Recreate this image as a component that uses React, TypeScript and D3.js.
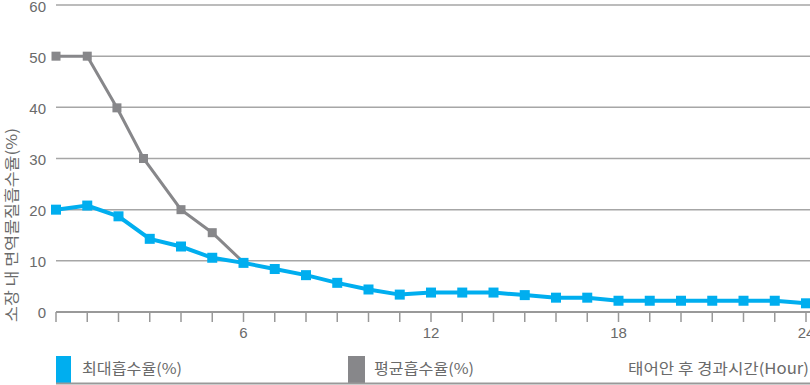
import React from "react";
import * as d3 from "d3";

const hours = d3.range(0, 25);
const maxHours = hours;
const maxValues = [20, 20.8, 18.7, 14.3, 12.8, 10.6, 9.6, 8.4, 7.2, 5.7, 4.4, 3.4, 3.8, 3.8, 3.8, 3.3, 2.8, 2.8, 2.2, 2.2, 2.2, 2.2, 2.2, 2.2, 1.7];
const avgHours = [0, 1, 1.95, 2.8, 4, 5, 6];
const avgValues = [50, 50, 39.9, 30, 20, 15.5, 9.7];
const yTicks = [0, 10, 20, 30, 40, 50, 60];
const xLabels = [6, 12, 18, 24];
const legendLabels = ["최대흡수율(%)", "평균흡수율(%)"];
const yTitle = "소장 내 면역물질흡수율(%)";
const xTitle = "태어안 후 경과시간(Hour)";

const BLUE = "#00aeef";
const GRAY = "#87878a";
const FONT = "'Liberation Sans', Arial, sans-serif";
const KFONT = "'Noto Sans CJK KR', sans-serif";

export default function App() {
  const W = 810, H = 385;
  const x = d3.scaleLinear().domain([0, 24]).range([56, 806]);
  const y = d3.scaleLinear().domain([0, 60]).range([312, 5]);
  const line = d3.line<[number, number]>().x(d => x(d[0])).y(d => y(d[1]));
  const maxPts: [number, number][] = maxHours.map((h, i) => [h, maxValues[i]]);
  const avgPts: [number, number][] = avgHours.map((h, i) => [h, avgValues[i]]);

  return (
    <svg width={W} height={H} style={{ position: "absolute", left: 0, top: 0, display: "block" }} fontFamily={FONT}>
      <rect width={W} height={H} fill="#fff" />
      {yTicks.filter(t => t > 0).map(t => (
        <line key={t} x1={56} x2={W} y1={y(t)} y2={y(t)} stroke="#a6a6a6" strokeWidth={1.5} />
      ))}
      {yTicks.map(t => (
        <text key={t} x={46} y={Math.max(y(t) + 1, 7)} dy="0.36em" textAnchor="end" fontSize={15} fill="#6a6a6a">{t}</text>
      ))}
      <line x1={56} x2={W} y1={y(0)} y2={y(0)} stroke="#999" strokeWidth={2} />
      {hours.map(h => (
        <line key={h} x1={x(h)} x2={x(h)} y1={y(0)} y2={y(0) + 10} stroke="#999" strokeWidth={1.5} />
      ))}
      {xLabels.map(h => (
        <text key={h} x={x(h)} y={333} dy="0.36em" textAnchor="middle" fontSize={15} fill="#6a6a6a">{h}</text>
      ))}
      <text transform={`translate(12,${225}) rotate(-90)`} textAnchor="middle" dy="0.35em" fontSize={15} fill="#6a6a6a" fontFamily={KFONT} textLength={194} lengthAdjust="spacingAndGlyphs">{yTitle}</text>

      <path d={line(avgPts) || ""} fill="none" stroke={GRAY} strokeWidth={3} />
      {avgPts.slice(0, -1).map((p, i) => (
        <rect key={i} x={x(p[0]) - 4.5} y={y(p[1]) - 4.5} width={9} height={9} fill={GRAY} />
      ))}
      <path d={line(maxPts) || ""} fill="none" stroke={BLUE} strokeWidth={4} />
      {maxPts.map((p, i) => (
        <rect key={i} x={x(p[0]) - 5} y={y(p[1]) - 5} width={10} height={10} fill={BLUE} />
      ))}

      <rect x={56} y={356} width={15} height={27} fill={BLUE} />
      <text x={82} y={369} dy="0.36em" fontSize={15} fill="#6a6a6a" fontFamily={KFONT} textLength={100} lengthAdjust="spacingAndGlyphs">{legendLabels[0]}</text>
      <rect x={348} y={356} width={17} height={27} fill={GRAY} />
      <text x={374} y={369} dy="0.36em" fontSize={15} fill="#6a6a6a" fontFamily={KFONT} textLength={100} lengthAdjust="spacingAndGlyphs">{legendLabels[1]}</text>
      <text x={628} y={369} dy="0.36em" fontSize={15} fill="#6a6a6a" fontFamily={KFONT} textLength={181} lengthAdjust="spacingAndGlyphs">{xTitle}</text>
      <line x1={56} x2={W} y1={383.5} y2={383.5} stroke="#999" strokeWidth={2} />
    </svg>
  );
}
